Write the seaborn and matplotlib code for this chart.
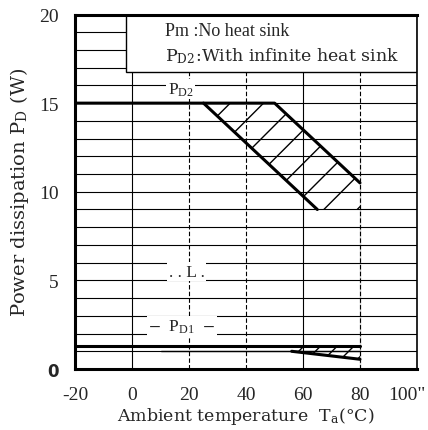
import matplotlib
matplotlib.use('Agg')
import matplotlib.pyplot as plt
import matplotlib.transforms as mtransforms
import seaborn as sns
from matplotlib.patches import Rectangle

# Datos (Ta en grados C, potencia en W)
ta_pd2_alta = [-20, 50, 80]
pd2_alta = [15, 15, 10.5]
ta_pd2_baja = [25, 65]
pd2_baja = [15, 9]
ta_banda = [25, 50, 80, 80, 65]
pd_banda = [15, 15, 10.5, 9, 9]
ta_pd1 = [-20, 80]
pd1 = [1.3, 1.3]
ta_pd1_baja = [56, 80]
pd1_baja = [1.0, 0.55]
ta_pd1_fina = [10, 80]
pd1_fina = [1.0, 1.0]
ta_limite = [80, 80]
pd_limite = [0, 12]

x_ticks = [-20, 0, 20, 40, 60, 80, 100]
x_labels = ['-20', '0', '20', '40', '60', '80', '100"']
y_ticks = [0, 5, 10, 15, 20]
y_labels = ['0', '5', '10', '15', '20']
y_rejilla = list(range(1, 20))
x_rejilla = [0, 20, 40, 60, 80]

sns.set_style('white')
plt.rcParams['font.family'] = ['Liberation Serif', 'DejaVu Serif']
plt.rcParams['mathtext.fontset'] = 'stix'

fig = plt.figure(figsize=(4.28, 4.31), dpi=100)
ax = fig.add_axes([0.1764, 0.1415, 0.7976, 0.8225])
ax.set_xlim(-20, 100)
ax.set_ylim(0, 20)

# rejilla
for y in y_rejilla:
    ax.axhline(y, color='black', lw=0.8, zorder=1)
for x in x_rejilla:
    estilo = '-' if x in (0, 60) else (0, (4, 2))
    ax.axvline(x, color='black', lw=0.8, ls=estilo, zorder=1)

# banda rayada PD2
ax.fill(ta_banda, pd_banda, facecolor='none', edgecolor='black', hatch='/', lw=0, zorder=2)
sns.lineplot(x=ta_pd2_alta, y=pd2_alta, ax=ax, color='black', lw=2.2, zorder=3)
sns.lineplot(x=ta_pd2_baja, y=pd2_baja, ax=ax, color='black', lw=2.2, zorder=3)
sns.lineplot(x=ta_limite, y=pd_limite, ax=ax, color='black', lw=2.2, zorder=3)

# PD1
ax.fill_between(ta_pd1_baja, pd1_baja, pd1[:1] * 2, facecolor='none', edgecolor='black',
                hatch='//', lw=0, zorder=2)
sns.lineplot(x=ta_pd1, y=pd1, ax=ax, color='black', lw=2.2, zorder=3)
sns.lineplot(x=ta_pd1_fina, y=pd1_fina, ax=ax, color='black', lw=1, zorder=3)
sns.lineplot(x=ta_pd1_baja, y=pd1_baja, ax=ax, color='black', lw=2.2, zorder=3)

# leyenda en recuadro
ax.add_patch(Rectangle((0.148, 0.839), 0.852, 0.161, transform=ax.transAxes,
                       facecolor='white', edgecolor='black', lw=1, zorder=4))
ax.text(11.5, 19.1, 'Pm :No heat sink', fontsize=13, zorder=5, va='center')
ax.text(11.5, 17.7, r'P$_{\mathregular{D2}}$:With infinite heat sink', fontsize=12.5,
        family='DejaVu Serif', zorder=5, va='center')

# etiquetas en el area
ax.text(17, 15.8, r'P$_{\mathregular{D2}}$', fontsize=12.5, ha='center', va='center',
        zorder=5, bbox=dict(facecolor='white', edgecolor='none', pad=1))
ax.text(19, 5.5, '. . L .', fontsize=12.5, ha='center', va='center', zorder=5,
        bbox=dict(facecolor='white', edgecolor='none', pad=1))
ax.text(17.5, 2.4, r'$-$  P$_{\mathregular{D1}}$  $-$', fontsize=12.5, ha='center',
        va='center', zorder=5, bbox=dict(facecolor='white', edgecolor='none', pad=1))

ax.set_xticks(x_ticks)
ax.set_xticklabels(x_labels, fontsize=14)
ax.set_yticks(y_ticks)
ax.set_yticklabels(y_labels, fontsize=14)
etiqueta_cero = ax.get_yticklabels()[0]
etiqueta_cero.set_family('DejaVu Sans')
etiqueta_cero.set_fontweight('bold')
etiqueta_cero.set_fontsize(12)
ax.tick_params(length=0, pad=12)
# el ultimo rotulo queda un poco a la izquierda para no salirse
ultimo = ax.get_xticklabels()[-1]
ultimo.set_transform(ultimo.get_transform() +
                     mtransforms.ScaledTranslation(-7 / 72, 0, fig.dpi_scale_trans))

ax.set_xlabel(r'Ambient temperature  T$_{\mathregular{a}}$(°C)', fontsize=12.5,
              family='DejaVu Serif', labelpad=2)
ax.set_ylabel(r'Power dissipation P$_{\mathregular{D}}$ (W)', fontsize=14,
              family='DejaVu Serif', labelpad=6)

for lado in ['left', 'bottom', 'top']:
    ax.spines[lado].set_linewidth(2.2)
ax.spines['right'].set_linewidth(1.2)
for lado in ax.spines:
    ax.spines[lado].set_color('black')
    ax.spines[lado].set_zorder(6)

fig.savefig('out.png', dpi=100)
